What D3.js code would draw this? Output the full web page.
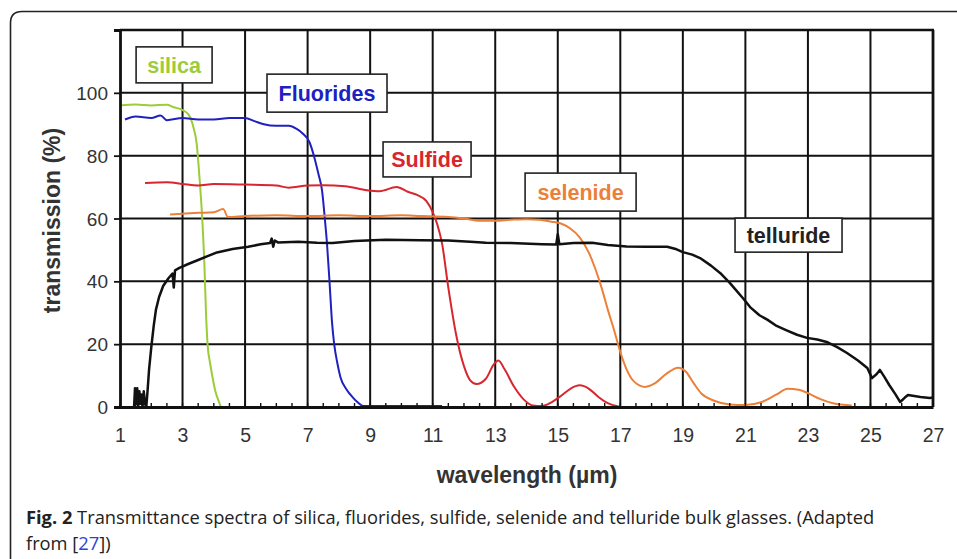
<!DOCTYPE html>
<html>
<head>
<meta charset="utf-8">
<script src="https://cdn.jsdelivr.net/npm/d3@7"></script>
<style>
  html, body { margin: 0; padding: 0; background: #fff; }
  svg { display: block; }
</style>
</head>
<body>
<svg id="chart" width="957" height="559"></svg>
<script>
// Transmission spectra of bulk glasses: [wavelength µm, transmission %]
const silica = [[1,96],[1.5,96.3],[2,96],[2.5,96.2],[2.7,95.5],[3.0,94.5],[3.2,93],[3.35,89],[3.45,84],[3.55,72],[3.63,60],[3.7,45],[3.75,30],[3.8,20],[3.88,14],[3.95,10],[4.05,5],[4.15,2],[4.25,0],[5.5,0]];
const fluorides = [[1.16,91.5],[1.5,92.5],[2,92],[2.3,92.8],[2.5,91.3],[3,92],[3.5,91.5],[4,91.5],[4.5,92],[5,92],[5.3,91],[5.6,90],[6,89.5],[6.4,89.5],[6.65,88.5],[6.85,87],[7.05,84.5],[7.2,80],[7.35,74],[7.46,69],[7.55,60],[7.62,52],[7.7,40],[7.78,27],[7.85,20],[7.95,14],[8.05,9.5],[8.25,5.5],[8.45,3],[8.6,1.5],[8.8,0.3],[11.3,0.3]];
const sulfide = [[1.8,71.3],[2.5,71.5],[3,71],[3.5,70.5],[4,71],[5,70.8],[6,70.5],[6.4,69.8],[7,70.5],[7.5,70.6],[8.2,70.3],[8.9,69],[9.3,68.7],[9.85,70],[10.2,68.5],[10.5,67.5],[10.8,65.5],[11.0,62],[11.15,58],[11.3,52],[11.5,38],[11.75,23],[12.0,13],[12.2,8.5],[12.4,7.3],[12.7,9],[12.95,13.5],[13.1,14.8],[13.3,12],[13.6,6.5],[13.9,2.5],[14.2,0.5],[14.5,0.3],[14.8,1.5],[15.1,3.5],[15.4,5.8],[15.7,6.9],[16.0,5.8],[16.3,3.2],[16.6,1.2],[17.0,0]];
const selenide = [[2.6,61.3],[3,61.5],[3.5,61.8],[4,62],[4.3,63],[4.45,60.5],[5,60.8],[6,61],[7,60.8],[8,61],[9,60.8],[10,61],[10.6,60.8],[11.5,60.5],[12,60],[12.5,59.3],[13,59.3],[13.5,59.6],[14,59.8],[14.4,59.6],[14.8,59],[15.1,58.4],[15.4,56.8],[15.7,54],[16.0,49],[16.2,44],[16.4,38],[16.6,31],[16.8,24.5],[17.0,17.5],[17.2,12],[17.45,8],[17.8,6.4],[18.1,7.5],[18.5,10.8],[18.85,12.5],[19.1,11.2],[19.35,7.5],[19.6,4.2],[20.0,2],[20.5,0.8],[21.0,0.6],[21.5,1.5],[22.0,4],[22.35,5.8],[22.7,5.5],[23.0,4.4],[23.4,2.5],[23.8,1.2],[24.4,0.5]];
const telluride = [[1.45,0],[1.48,6],[1.52,1],[1.55,6],[1.58,0],[1.62,5],[1.65,1],[1.68,4],[1.72,0],[1.76,5],[1.8,1],[1.84,0],[1.88,5],[1.93,12],[2.0,19],[2.08,26],[2.15,31],[2.25,35],[2.38,38.5],[2.55,41],[2.68,42.5],[2.72,38],[2.76,43.5],[2.9,44.3],[3.2,45.6],[3.5,46.8],[3.8,48],[4.1,49.2],[4.6,50.3],[5.1,51],[5.5,51.8],[5.8,52.2],[5.85,53.6],[5.9,51],[5.95,53],[6.05,52.4],[6.7,52.6],[7.3,52.3],[7.8,52.2],[8.5,52.8],[9.5,53.2],[10.6,53.1],[11.5,53],[12.2,52.6],[12.7,52.3],[13.5,52.2],[14.5,51.8],[14.95,51.7],[15.0,55],[15.05,51.8],[15.5,52.2],[16.1,52.3],[16.6,51.6],[17.2,51.1],[17.8,51],[18.5,51],[18.8,50.2],[19.0,49.3],[19.3,48.5],[19.55,47.4],[19.9,45],[20.2,42.6],[20.5,39.5],[20.7,37.2],[20.95,34.3],[21.15,31.8],[21.45,29.2],[21.7,27.8],[22.0,25.8],[22.3,24.5],[22.65,23],[22.97,22],[23.3,21.5],[23.6,20.7],[23.95,19],[24.25,17.2],[24.6,14.8],[24.9,12.4],[25.05,9.2],[25.2,10.5],[25.3,11.8],[25.45,9.5],[25.6,7],[25.8,4],[25.95,1.6],[26.1,3],[26.2,3.8],[26.6,3.2],[26.9,2.9],[27,3]];

const xTicks = [1,3,5,7,9,11,13,15,17,19,21,23,25,27];
const yTicks = [0,20,40,60,80,100];
const yGrid = [20,40,60,80,100];

// Series styling
const series = [
  {name: "silica",    data: silica,    color: "#9ccc3a", width: 2},
  {name: "Fluorides", data: fluorides, color: "#2020c0", width: 2},
  {name: "Sulfide",   data: sulfide,   color: "#d8262e", width: 2},
  {name: "selenide",  data: selenide,  color: "#ec8038", width: 2},
  {name: "telluride", data: telluride, color: "#111111", width: 2.5}
];
// Boxed series names, centred at (x, y) in data units
const labels = [
  {text: "silica",    color: "#9ccc3a", x: 2.73,  y: 108.9, w: 76,  h: 36},
  {text: "Fluorides", color: "#2020c0", x: 7.62,  y: 99.9,  w: 120, h: 38},
  {text: "Sulfide",   color: "#d8262e", x: 10.82, y: 78.8,  w: 88,  h: 35},
  {text: "selenide",  color: "#ec8038", x: 15.73, y: 68.4,  w: 111, h: 38},
  {text: "telluride", color: "#222222", x: 22.38, y: 54.7,  w: 107, h: 34}
];

const svg = d3.select("#chart");
const SANS = "'Liberation Sans', Arial, sans-serif";

// Outer figure frame
svg.append("path")
  .attr("d", "M10.5,559 L10.5,23 Q10.5,11.5 22,11.5 L957,11.5")
  .attr("fill", "none").attr("stroke", "#222").attr("stroke-width", 1.6);

const plot = {left: 120, right: 933, top: 30, bottom: 407};
const x = d3.scaleLinear().domain([1, 27]).range([plot.left, plot.right]);
const y = d3.scaleLinear().domain([0, 120]).range([plot.bottom, plot.top]);

const g = svg.append("g");

// Grid
g.selectAll("line.vgrid").data(xTicks.slice(1, -1)).join("line")
  .attr("x1", d => x(d)).attr("x2", d => x(d))
  .attr("y1", plot.top).attr("y2", plot.bottom)
  .attr("stroke", "#111").attr("stroke-width", 2);
g.selectAll("line.hgrid").data(yGrid).join("line")
  .attr("x1", plot.left).attr("x2", plot.right)
  .attr("y1", d => y(d)).attr("y2", d => y(d))
  .attr("stroke", "#111").attr("stroke-width", 2);

// Frame: top and right borders
g.append("line").attr("x1", plot.left).attr("x2", plot.right + 1)
  .attr("y1", plot.top).attr("y2", plot.top)
  .attr("stroke", "#111").attr("stroke-width", 2.4);
g.append("line").attr("x1", plot.right).attr("x2", plot.right)
  .attr("y1", plot.top).attr("y2", plot.bottom)
  .attr("stroke", "#111").attr("stroke-width", 2.8);

// Curves
const line = d3.line().x(d => x(d[0])).y(d => y(d[1])).curve(d3.curveMonotoneX);
const lineSharp = d3.line().x(d => x(d[0])).y(d => y(d[1]));
series.forEach(s => {
  g.append("path").datum(s.data)
    .attr("d", s.name === "telluride" ? lineSharp : line)
    .attr("fill", "none")
    .attr("stroke", s.color)
    .attr("stroke-width", s.width)
    .attr("stroke-linejoin", "round");
});

// Axes
const yAxis = d3.axisLeft(y).tickValues(yTicks.concat([120])).tickSize(6)
  .tickFormat(d => d === 120 ? "" : d);
const yA = g.append("g").attr("transform", `translate(${plot.left},0)`).call(yAxis);
yA.select(".domain").attr("stroke", "#111").attr("stroke-width", 2.8);
yA.selectAll(".tick line").attr("stroke", "#111").attr("stroke-width", 1.8);
yA.selectAll(".tick text")
  .attr("x", -12).attr("dy", "0.35em")
  .style("font-family", SANS)
  .style("font-size", "19px").attr("fill", "#333");

// Minor ticks along the x axis, pointing up
const minor = d3.range(1, 27.01, 0.5);
g.selectAll("line.minor").data(minor).join("line")
  .attr("x1", d => x(d)).attr("x2", d => x(d))
  .attr("y1", plot.bottom).attr("y2", plot.bottom - 4)
  .attr("stroke", "#111").attr("stroke-width", 1.4);

const xAxis = d3.axisBottom(x).tickValues(xTicks).tickSize(0).tickPadding(21);
const xA = g.append("g").attr("transform", `translate(0,${plot.bottom})`).call(xAxis);
xA.select(".domain").attr("stroke", "#111").attr("stroke-width", 3.2);
xA.selectAll(".tick text")
  .style("font-family", SANS)
  .style("font-size", "19.5px").attr("fill", "#333");

// Axis titles
g.append("text")
  .attr("transform", `translate(60,220.5) rotate(-90)`)
  .attr("text-anchor", "middle")
  .style("font-family", SANS)
  .style("font-size", "23px").style("font-weight", "bold").attr("fill", "#333")
  .text("transmission (%)");
g.append("text")
  .attr("x", 527).attr("y", 483)
  .attr("text-anchor", "middle")
  .style("font-family", SANS)
  .style("font-size", "23px").style("font-weight", "bold").attr("fill", "#333")
  .text("wavelength (µm)");

// Label boxes
labels.forEach(l => {
  const cx = x(l.x), cy = y(l.y);
  g.append("rect")
    .attr("x", cx - l.w / 2).attr("y", cy - l.h / 2)
    .attr("width", l.w).attr("height", l.h)
    .attr("fill", "#fff").attr("stroke", "#222").attr("stroke-width", 1.6);
  g.append("text")
    .attr("x", cx).attr("y", cy).attr("dy", "0.36em")
    .attr("text-anchor", "middle")
    .style("font-family", SANS)
    .style("font-size", "21.5px").style("font-weight", "bold")
    .attr("fill", l.color)
    .text(l.text);
});

// Caption
const cap = svg.append("text")
  .attr("x", 26).attr("y", 524)
  .style("font-family", "'Open Sans', sans-serif")
  .style("font-size", "18.3px").attr("fill", "#222");
cap.append("tspan").style("font-weight", "bold").text("Fig. 2");
cap.append("tspan").text(" Transmittance spectra of silica, fluorides, sulfide, selenide and telluride bulk glasses. (Adapted");
const cap2 = svg.append("text")
  .attr("x", 26).attr("y", 550)
  .style("font-family", "'Open Sans', sans-serif")
  .style("font-size", "18.3px").attr("fill", "#222");
cap2.append("tspan").text("from [");
cap2.append("tspan").attr("fill", "#2f3fd8").text("27");
cap2.append("tspan").text("])");
</script>
</body>
</html>
